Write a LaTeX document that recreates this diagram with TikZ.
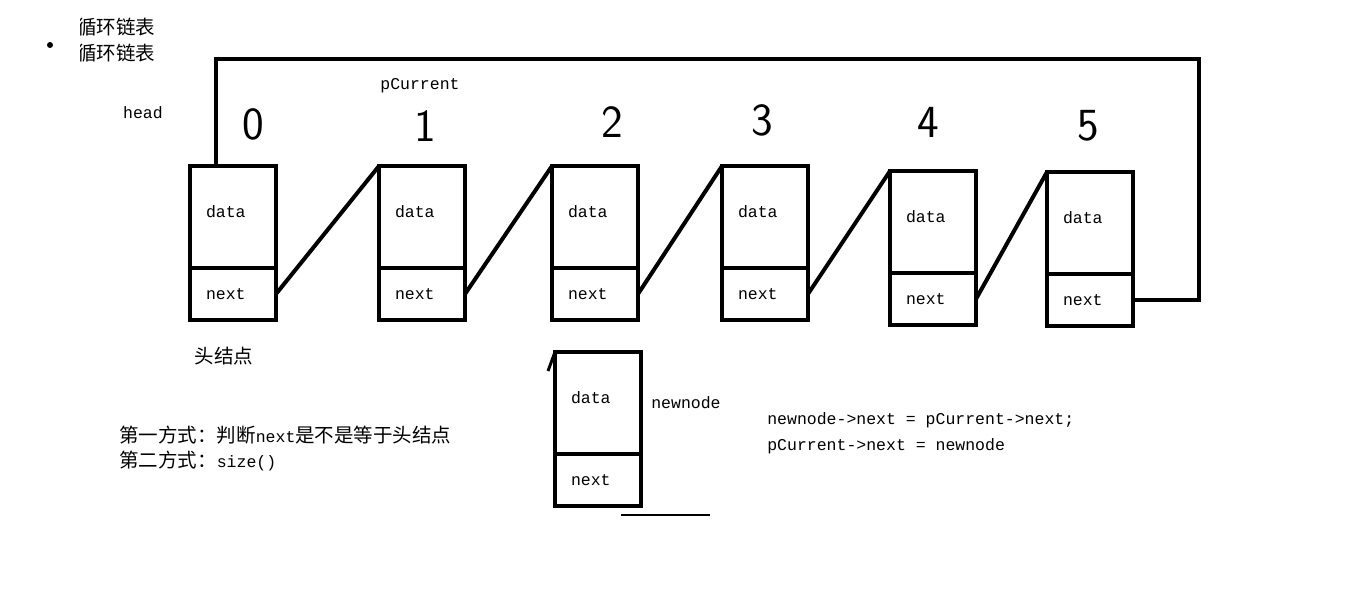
\documentclass[tikz,border=0pt]{standalone}
\usepackage{fontspec}
\setmonofont{Liberation Mono}
\newfontfamily\cjk{Noto Sans CJK SC}
\usetikzlibrary{positioning}

\newcommand{\txt}[1]{{\fontsize{16.5}{18}\selectfont\ttfamily #1}}

\begin{document}
\begin{tikzpicture}[x = 1pt, y = -1pt, line width = 4pt,
	font = \fontsize{16.5}{18}\selectfont\ttfamily,
	datacell/.style = {draw, minimum width = 86pt, minimum height = 102pt, text width = 54pt,
		text depth = 10pt, align = left, inner xsep = 16pt, inner ysep = 0pt, outer sep = 0pt},
	nextcell/.style = {datacell, minimum height = 52pt, text depth = 0pt},
	digit/.style = {font = \fontsize{46}{46}\selectfont\sffamily},
	cjktext/.style = {font = \fontsize{19.5}{22}\selectfont\cjk}]

	\useasboundingbox (0, 0) rectangle (1360, 604);

	% Titles

	\fill (50, 45) circle (3);
	\begin{scope}
		\clip (80, 5) rectangle (200, 70);
		\node [cjktext, anchor = west] (title1) at (72, 27) {循环链表};
		\node [cjktext, anchor = west] (title2) at (72, 53) {循环链表};
	\end{scope}

	\node (head) at (143, 113) {head};
	\node (pcur) at (420, 86) {pCurrent};

	% List nodes

	\foreach \i/\x/\y in {0/233/217, 1/422/217, 2/595/217, 3/765/217, 4/933/222, 5/1090/223} {
		\node [datacell] (d\i) at (\x, \y) {data};
		\node [nextcell, below = 0pt of d\i] (n\i) {next};
	}

	% Hand written numbers

	\foreach \i/\x/\y in {0/253/124, 1/425/126, 2/612/122, 3/762/120, 4/928/122, 5/1088/126}
		\node [digit] (k\i) at (\x, \y) {\i};

	% Links

	\foreach \i/\j in {0/1, 1/2, 2/3, 3/4, 4/5}
		\draw (n\i.east) -- (d\j.north west);

	\coordinate (looptl) at (216, 59);
	\coordinate (looptr) at (1199, 59);
	\draw (d0.north -| looptl) -- (looptl) -- (looptr) |- (n5.east);

	\node [cjktext] (headnode) at (224, 356) {头结点};

	% New node

	\node [datacell] (dn) at (598, 403) {data};
	\node [nextcell, below = 0pt of dn] (nn) {next};
	\draw [line width = 3pt] (dn.north west) -- ++(-7, 19);
	\node [right = 5pt of dn] (newlabel) {newnode};
	\draw [line width = 1.5pt] (621, 515) -- (710, 515);

	% Notes

	\node [cjktext, anchor = west] (way1) at (114, 435) {第一方式：判断\txt{next}是不是等于头结点};
	\node [cjktext, anchor = west] (way2) at (114, 461) {第二方式：\txt{size()}};

	\node [anchor = west] (code1) at (762, 420) {newnode->next = pCurrent->next;};
	\node [anchor = west] (code2) at (762, 446) {pCurrent->next = newnode};

\end{tikzpicture}
\end{document}
